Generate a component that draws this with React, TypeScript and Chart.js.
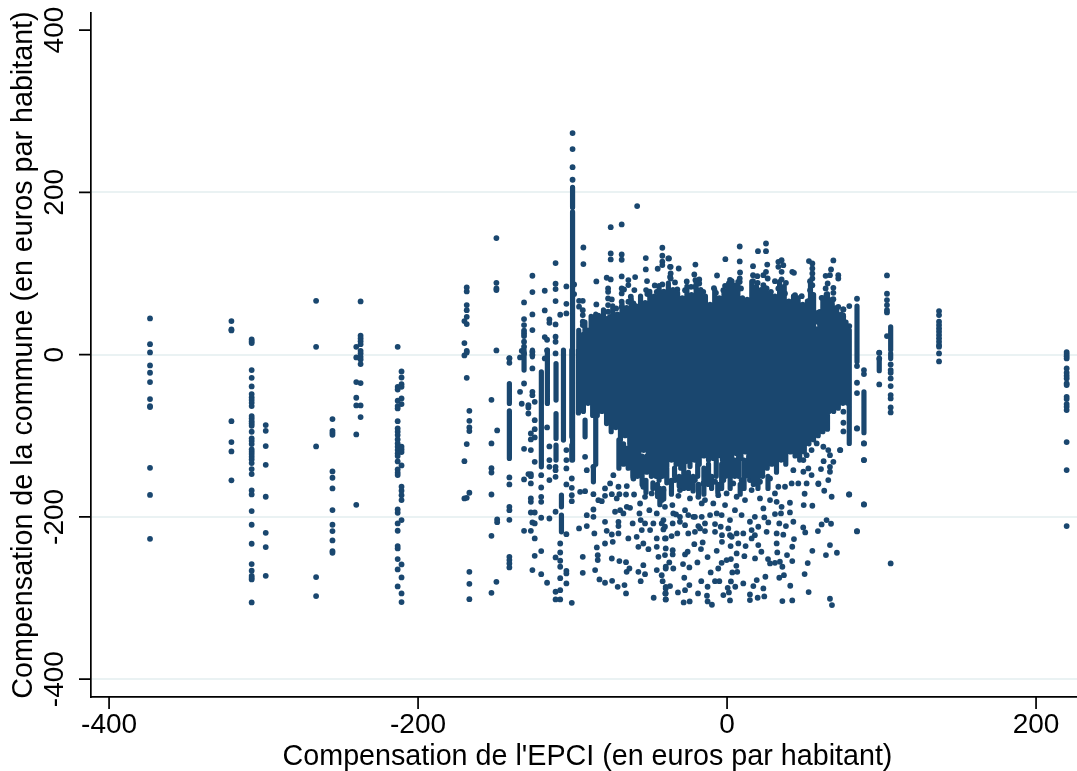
import React, { useEffect, useRef } from "react";
import { Chart, registerables } from "chart.js";

Chart.register(...registerables);

const xTicks = [-400, -200, 0, 200];
const yTicks = [-400, -200, 0, 200, 400];
const xTitle = "Compensation de l'EPCI (en euros par habitant)";
const yTitle = "Compensation de la commune (en euros par habitant)";

// Individually readable communes: [EPCI value, [commune values]]
const farLeftColumns: [number, number[]][] = [
  [-373.5, [44.6, 12.9, 2.7, -13.3, -22.4, -33.9, -54.8, -63.4, -64.7, -139.5, -173, -227]],
  [-320.8, [41.3, 31, 29.8, -82, -107.8, -119.3, -155]],
  [-307.7, [18.7, 16.2, 14.2, -19.1, -28.6, -39.2, -48.7, -52.8, -56.1, -59.4, -63.5, -75.8, -78.7, -82, -84.8, -87.7, -95.1, -103.3, -106.6, -110.3, -116.9, -119.8, -122.6, -125.9, -129.2, -133.7, -141.1, -147.3, -167.4, -172.3, -192.9, -209.7, -233.1, -258.2, -266.4, -272.6, -275, -277.1, -305.4]],
  [-298.6, [-86.9, -93.9, -112.8, -135.8, -175.2, -219.6, -237.2, -272.6]],
  [-266, [66.3, 9.6, -113.2, -274.2, -297.6]],
  [-255.4, [-79.5, -93.9, -96.4, -98.8, -144, -151.8, -165, -191.6, -209.7, -217.5, -229, -242.2, -244.2]],
  [-240, [9.6, -3.5, -33.9, -53.2, -62.7, -98.4, -185.1]],
  [-237.2, [65.5, 23.2, 19.9, 16.6, 12.9, 4.7, 1.4, -2.7, -6, -11.7, -35.1, -62.7, -77]],
  [-213.2, [9.6, -39.7, -43, -56.9, -63.5, -66.4, -82, -91, -95.1, -99.2, -104.6, -109.5, -113.6, -117.7, -121.8, -125.1, -131.7, -141.5, -145.6, -148.5, -190.8, -194.9, -208.1, -217.1, -236, -238.9, -252, -264.8, -285.7]],
  [-210.7, [-20.8, -28.2, -36.4, -39.7, -54, -61, -113.6, -116.9, -120.2, -136.6, -162.9, -167.8, -173.2, -179.3, -204, -258.6, -274.6, -294.4, -305]],
];

const midLeftColumns: [number, number[]][] = [
  [-170, [41.3, 14.2, -1, -131.3, -177.3]],
  [-168.5, [82.8, 77.8, 61, 54.8, 46.6, 37.6, 4.7, 2.7, -28.6, -110.3, -176.5]],
  [-166.8, [-69.3, -81.6, -89.8, -94.3, -170.3, -267.7, -282.5, -301.4]],
  [-152.5, [-55.7, -109.5, -140, -145.3, -172.4, -223.3, -293.6]],
  [-149.3, [143.6, 88.5, 81.5, 79.5, 5.1, -280]],
  [-148.8, [-93.5, -203.2, -206.5]],
  [-140.9, [-4.3, -4.8, -10.1, -151.4, -160, -187.6, -191.7, -203.6, -249.2, -253.3, -257.4, -262.3]],
  [-134, [-3.5, -45.9]],
  [-132.9, [4.7, -60.6]],
  [-131.4, [64.3, 43.8, 36.4, 29.4, 26.1, 22.8, 15.8, 9.7, 1.4, -35.6, -116.1, -153.9, -217.2]],
  [-128.6, [-62.3, -65.2, -72.6, -147.3]],
  [-127, [-97.2, -104.6, -117.7, -147.3, -149.8, -158.8, -177.3, -181.4, -194.6, -217.2]],
  [-126, [97.2, 77, 49.5, 30.2, 3.5, -0.6, -17.1, -45.9, -50, -265.6, -206.9]],
  [-124.5, [-58.2, -80.8, -91.9, -102.1, -132.1, -194.6, -208.1, -226.6, -248]],
  [-120.3, [-148.6, -163.8, -175.3, -181.4, -201.1, -242.2, -270.6]],
  [-118, [78.7, 54.4, 21.6, -4.7]],
  [-116.5, [18.3, 5.1, -89.8, -281.2]],
  [-115, [43.3, 39.2, -113.2, -130, -138.3, -154.7, -202]],
  [-111, [112.8, 87.3, 80.7, 65.9, 37.2, 22, 15.8, 1.4, -138.3, -142.4, -150.6, -193.7, -250, -292.3, -301.8]],
  [-108, [49.1, -232.8, -243.9, -254.1, -261.5, -275.5, -290.3, -301.8]],
  [-104, [84, 62.6, 50.7, -117.7, -130, -140.3, -160, -221.3, -266.5, -269.7, -282]],
  [-100.5, [-152.7, -164.2, -173.2, -180.6, -305.9]],
  [-100, [273, 253.3, 231, 215.5]],
];

const looseEPCI = [-99, -99, -95.8, -95.8, -95.1, -95.8, -93.4, -93.4, -93.4, -93.4, -93.4, -93.4, -93.4, -93, -93, -91.9, -91.9, -90.8, -90.8, -90.8, -86.5, -86.5, -86.5, -86.5, -85.9, -85.4, -84.6, -84.6, -84.3, -83.7, -83.7, -83.3, -83.3, -82.6, -81.1, -79, -79, -79, -79, -79, -77.9, -77.9, -77, -77, -77, -77, -77, -75.7, -75.7, -75.3, -75.3, -75.3, -75.3, -74.6, -74.6, -74.6, -74.6, -74.6, -74.4, -74, -73.6, -72.5, -71.8, -71.4, -70.8, -70.3, -70.3, -70.3, -70.3, -69.7, -69.7, -69.2, -68.2, -68.2, -68.2, -68.2, -68.2, -68.2, -68.2, -68.2, -67.1, -66.7, -66.4, -65.4, -65.4, -65.4, -65, -64.9, -64.9, -63.9, -63.9, -63.9, -63.9, -63.2, -62.8, -62.8, -62.3, -61.1, -60.6, -60.6, -60.2, -60, -59.5, -58.5, -58.2, -57.4, -57.4, -56.7, -56.3, -55.9, -55.9, -55.2, -54.2, -54.2, -54.2, -54.2, -53.1, -53.1, -53.1, -52.6, -52.6, -52.4, -51.8, -51.6, -50.9, -50.3, -49.8, -48.8, -47.7, -47.5, -46.8, -46.6, -45.5, -45.5, -45.5, -45.5, -45.5, -44.9, -44.4, -42.3, -42.3, -41.9, -41.9, -41.9, -41.9, -41.9, -41.2, -39.7, -39.7, -39.7, -39.7, -39.7, -38, -36.9, -36.9];
const looseCommune = [86.5, 74.6, 66.3, 59, -169.1, -214.3, 66.3, 54.8, 48.7, 40.5, 36.4, -249.2, -268.9, 132, 111.5, -126, -168.3, -142.4, -197.9, -211.4, -172, -190.9, -199.9, -138.3, -220.4, -265.6, 90.2, 61.8, -237.7, -247.2, -253.3, 47.9, -179.4, -277.1, -180.6, -174, -165, -206.1, -232.8, -281.2, 94.7, -217.2, 81.5, 77.4, 69.2, 61, 52.8, 46.6, -158.8, 157.1, 124.7, 117.3, 92.6, 68, 42.5, -172, -221.7, -251.3, -278.8, -230.7, -148.6, -193.7, 56.9, -177.3, -286.2, -162.9, -206.1, -211.4, -220.4, -172, -254.5, -191.7, 160.4, 123.4, 116.9, 96.3, 81.5, 75.4, 65.1, 59, -195.8, 80.3, -284.1, -172.4, -255.8, -294.4, -267.7, -162.1, -187.6, 91.8, 85.7, 65.1, -226.6, -263.6, -188.8, -138.3, 71.3, -208.1, 63, -152.7, -172.4, 79.5, 95.5, -224.6, 183, -236.9, -267.7, -195.8, -183.5, -204, -279.2, -216.3, 61, -162.9, -232.8, -259.5, -175.3, -208.1, -270.6, 118.9, 105, 79.5, 90.6, 74.6, -239.8, -191.7, -216.3, -171.1, -208.1, -299.7, 85.2, -162.1, 77.4, -195.8, -226.6, -236.9, -265.6, 105.8, -249.2, -208.1, -271.8, 131.7, 121.8, 114.4, 110.3, 86.5, -167, -226.6, -238.9, -261.5, -286.2, -301.8, 118.5, 108.2, 95.9];

const topEPCI = [-37.6, -36.5, -36.5, -36.5, -33.7, -32.2, -31.3, -27.2, -26.1, -23.3, -21.2, -20.8, -20.5, -20.5, -18, -18, -15.4, -8.5, -7.2, -6.5, -2.4, -1.3, -1.1, 0.8, 1.9, 3, 5.1, 8, 8.2, 8.2, 8.2, 8.2, 8.4, 9, 16.8, 16.8, 16.8, 16.8, 19.6, 19.8, 20, 23.5, 23.5, 25.2, 25.2, 25.2, 25.6, 26, 26.3, 28.4, 31, 33.2, 33.2, 33.2, 35.3, 35.3, 35.3, 35.3, 36.4, 37.5, 38.1, 42.2, 43.3, 44, 48.3, 53, 53.7, 53.7, 53.7, 55.2, 55.2, 55.2, 55.2, 55.2, 55.2, 60.1, 61.2, 63.8, 63.8, 64.4, 64.4, 65.1, 66.6, 67.3, 67.7, 68.8, 68.8, 68.8, 68.8, 72, 72, 72, 75.2, 75.2];
const topCommune = [118.5, 108.2, 100, 93.8, 88.9, 80.3, 106.1, 79.4, 90.1, 83.5, 98.7, 83.5, 111, 91.8, 92.6, 87.6, 77.4, 81.9, 76.1, 97.5, 79.4, 84.8, 117.6, 81.5, 92.2, 90.5, 83.5, 81.5, 133.2, 114.8, 93.8, 89.7, 101.2, 81.5, 109, 97.9, 90.5, 82.3, 96.7, 88.5, 127.5, 97.9, 85.6, 136.9, 127.5, 102, 81.5, 111, 93.8, 77.4, 90.5, 114.3, 108.2, 81.5, 116.4, 102, 92.6, 81.5, 110.2, 75.3, 88.5, 102, 100.8, 73.3, 72, 115.2, 90.5, 79.4, 67.1, 112.3, 106.1, 100, 93.8, 85.6, 73.3, 52.7, 70, 97.1, 81.5, 74.1, 65, 87.6, 97.9, 104.9, 60.9, 116, 82.3, 76.1, 68.3, 97.9, 93.8, 58.9, 55.6, 46.6];

const lowEPCI = [105.9, 88.6, 88.6, 88.6, 84.1, 84.1, 78.9, 73.3, 71.1, 67.9, 67.7, 67.3, 66.6, 66.6, 64.4, 64, 62.9, 62.5, 61.2, 60.8, 59.1, 58.8, 55.2, 55.2, 52.8, 52.2, 50.6, 50.2, 50.2, 49.6, 49.3, 43.3, 42.9, 42.2, 42.2, 42.2, 40.9, 40.7, 40.7, 38.8, 38.1, 36.8, 36.4, 35.8, 35.8, 34.9, 34.2, 33.8, 33.8, 32.5, 32.1, 32.1, 31, 31, 27.8, 26.7, 26.5, 25.6, 24.8, 24.1, 24.1, 23.5, 22.2, 20.2, 19.8, 19.2, 18.1, 18, 17, 15.9, 14.8, 14.8, 12, 11.2, 10.5, 10.5, 7.3, 6.6, 6.2, 6, 5.3, 3.4, 2.5, 2.5, 2.3, 1.9, 1.9, 1.2, 0.8, 0.4, -0.3, -2.4, -3.3, -3.3, -3.5, -4.1, -5, -5.7, -6.7, -7.8, -7.8, -9.8, -10.6, -12.6, -12.6, -12.6, -13, -14.3, -15.8, -16.7, -16.9, -18.6, -18.8, -19.2, -21.2, -21.8, -24.2, -24.4, -24.4, -25.1, -25.5, -27.2, -27.2, -27.2, -27.7, -28.1, -28.5, -31.8, -32.2, -33, -34.8, -35.2, -35.2, -35.2, -35.4, -35.9, -36.9, -37.4, -39.7, -39.7, -39.7, -39.7, -40, -40.2, -40.2, -41.2, -41.7];
const lowCommune = [-257.4, -184.7, -130, -109.5, -217.5, -91, -172.4, -117.7, -244.2, -308.7, -175.2, -208.5, -234.8, -300.9, -204, -247.1, -167.8, -131.3, -209.3, -141.1, -159.6, -217.5, -241.8, -186.3, -292.7, -257, -219.2, -171.5, -270.5, -185.5, -213, -227.4, -206, -236.8, -254.5, -303, -284.9, -194.5, -182.6, -247.1, -211.4, -271.8, -222, -261.5, -303.8, -195.8, -255.3, -275, -208.1, -243.8, -232.7, -220.4, -256.6, -196.6, -257.4, -206.9, -252, -218.4, -273.8, -298, -200.7, -288.2, -243, -234.8, -299.7, -277.9, -251.2, -222.5, -285.3, -226.6, -295.6, -302.6, -236, -248.4, -282, -220.4, -232.7, -267.7, -245.1, -260.3, -286.1, -268.5, -279.6, -252, -236, -303, -222.5, -293.1, -214.3, -287.4, -253.3, -296.4, -222.5, -230.7, -256.6, -212.2, -279.2, -263.6, -241.8, -279.2, -208.9, -308.3, -268.5, -304.2, -286.1, -249.6, -297.2, -217.5, -231.5, -279.2, -239.7, -211.4, -294.4, -256.2, -233.6, -199.9, -304.2, -284.1, -262.3, -220.4, -243, -290.3, -246.3, -210.2, -275, -305.5, -258.2, -293.1, -220.4, -197, -263.6, -241, -246.3, -208.1, -185.5, -223.7, -285.3, -256.2, -301.8, -288.2, -263.6, -294.4, -294.4, -247.1, -226.6, -215.5, -279.2];

// Loose communes just under the dense body
const underEPCI = [-42.3, -41.2, -40.2, -40.2, -34.8, -33.7, -31.5, -30.5, -30.5, -30.5, -27.2, -26.1, -25.1, -24, -20.8, -20.8, -20.8, -18.6, -17.5, -16.4, -16.4, -15.4, -14.3, -14.3, -11, -8.9, -7.8, -7.8, -6.7, -5.7, -3.5, -2.4, -1.3, -0.3, 1.9, 3, 4, 5.1, 6.2, 6.2, 9.4, 9.4, 11.6, 14.8, 14.8, 15.9, 15.9, 18, 20.2, 21.3, 21.3, 23.5, 27.8, 27.8, 31, 32.1, 33.2, 35.3, 37.5, 41.8, 42.9, 46.1, 49.4, 49.4, 51.5, 51.5, 52.6, 54.7, 54.7, 58, 59.1, 62.3, 65.5, 65.5, 66.6, 66.6, 66.6, 68.8];
const underCommune = [-179.3, -204, -187.6, -212.2, -195.8, -154.7, -174, -167, -199.9, -206, -191.7, -152.6, -197.8, -177.3, -154.7, -199.9, -218.4, -175.2, -214.3, -183.4, -199.9, -158.8, -179.3, -208.1, -197.8, -183.4, -218.4, -156.7, -195.8, -173.2, -197.8, -154.7, -185.5, -171.1, -204, -224.5, -158.8, -191.7, -175.2, -220.4, -197.8, -154.7, -179.3, -206, -154.7, -167, -216.3, -199.9, -212.2, -177.3, -156.7, -189.6, -179.3, -152.6, -171.1, -181.4, -162.9, -187.6, -162.9, -158.8, -142.4, -158.8, -144.4, -130, -158.8, -123.9, -140.3, -148.5, -117.7, -109.5, -158.8, -113.6, -154.7, -117.7, -144.4, -138.3, -123.9, -132.1];

const rightColumns: [number, number[]][] = [
  [84.1, [68.8, -14.2, -34.7, -47.4, -91, -217.9]],
  [79.1, [59.8, 35.1, -172.3]],
  [75.3, [55.7, -70.4, -84, -94.7]],
  [73.1, [-117.7]],
  [88.6, [-19.1, -24, -109.5, -130, -184.6]],
  [98.5, [2.3, 2.2, -4.8, -36.8]],
  [103.5, [97.6, 75, 67.2, 61, 54.9, 52, 22.8]],
  [105.9, [-12.1, -19.1, -22.4, -29.4, -38.8, -49.9, -54, -65.1, -71.3]],
  [137.2, [53.6, 48.7, 40.5, 36.4, 32.3, 28.2, 24.1, 20, 15.9, 11.7, 9.7, 1.5, -8.4]],
  [219.8, [3.1, 0.6, -1.9, -4.7, -17, -22.4, -26, -29.4, -35.5, -37.6, -52, -54.8, -61, -64.3, -68.4, -107.8, -142.3, -211.4]],
];

// Columns too dense to separate: [EPCI value, highest commune, lowest commune]
const columnSpans: [number, number, number][] = [
  [-140.9, -35.6, -60.2], [-140.9, -69.3, -128], [-131.4, 5.5, -19.1], [-126, 5.5, -2.7], [-120.2, -21.2, -138.3], [-116.3, 5.5, -60.2],
  [-110.7, -11, -56], [-110.7, -72.6, -103.4], [-110.7, -111.6, -130], [-107.2, -173.2, -187.6], [-107.2, -197.9, -218.4], [-105.9, 5.5, -105.4],
  [-100.5, 5.5, -82.8], [-100.5, -82.8, -101.3], [-100.5, -111.6, -130], [-100, 206, 181.4], [-100, 176, -130], [-96.2, 5.5, -72],
  [-91.9, -80.8, -101.3], [-85, -35, -135], [-86.5, -138.3, -156.8],
  [79.1, 30.2, -109.5], [75.3, 48.7, -52], [84.1, 59.8, -8.8], [88.6, -45.8, -96.3], [98.5, -5.9, -19.9], [105.9, 34.3, 5.6], [105.9, 1.5, -4.7],
];
const bodySpans: [number, number, number][] = [
  [-96, 30, -60], [-93, 25, -70], [-90, 30, -60], [-87, 35, -75], [-84, 38, -75], [-81, 35, -70], [-78, 30, -85], [-75, 34, -95], [-72, 38, -90], [-69, 44, -105],
  [-66, 42, -100], [-63, 50, -110], [-60, 52, -118], [-57, 48, -120], [-54, 58, -118], [-51, 62, -125], [-48, 60, -128], [-45, 68, -130], [-42, 70, -135], [-39, 66, -138],
  [-36, 72, -130], [-33, 62, -135], [-30, 60, -140], [-27, 64, -132], [-24, 58, -138], [-21, 72, -130], [-18, 68, -135], [-15, 64, -125], [-12, 52, -130], [-9, 58, -128],
  [-6, 56, -125], [-3, 62, -130], [0, 64, -125], [3, 68, -128], [6, 70, -122], [9, 62, -128], [12, 55, -120], [15, 60, -122], [18, 70, -118], [21, 68, -115],
  [24, 65, -118], [27, 60, -112], [30, 55, -108], [33, 65, -105], [36, 68, -100], [39, 55, -98], [42, 58, -95], [45, 60, -90], [48, 55, -88], [51, 52, -85],
  [54, 65, -80], [57, 32, -78], [60, 45, -80], [63, 50, -75], [66, 50, -70], [69, 45, -70], [72, 38, -66], [75, 30, -60], [78, 20, -60],
];
const fringeSpans: [number, number, number][] = [
  [-92, 40, 20], [-88, 47, 20], [-85, 50, 25], [-82, 45, 20], [-80, 55, 25], [-77, 45, 25], [-74, 60, 30], [-71, 50, 30], [-68, 62, 35], [-65, 58, 35],
  [-62, 68, 40], [-59, 60, 40], [-56, 72, 45], [-53, 64, 50], [-50, 78, 50], [-47, 72, 50], [-44, 85, 60], [-41, 78, 60], [-38, 88, 60], [-35, 80, 60],
  [-32, 76, 55], [-29, 70, 55], [-26, 84, 55], [-23, 74, 55], [-20, 90, 60], [-17, 80, 60], [-14, 72, 50], [-11, 62, 50], [-8, 80, 50], [-5, 70, 50],
  [-2, 78, 55], [1, 88, 60], [4, 86, 60], [7, 90, 60], [10, 70, 55], [13, 68, 50], [16, 90, 55], [19, 84, 60], [22, 80, 60], [25, 82, 60],
  [28, 76, 55], [31, 72, 50], [34, 90, 60], [37, 84, 60], [40, 66, 50], [43, 72, 50], [46, 70, 50], [49, 62, 50], [52, 66, 50], [54, 90, 60],
  [56, 74, 30], [59, 52, 40], [62, 70, 45], [65, 75, 45], [68, 68, 45], [71, 58, 40], [74, 50, 30], [77, 40, 20],
];
const laceSpans: [number, number, number][] = [
  [-70, -105, -140], [-67, -110, -135], [-64, -115, -140], [-61, -115, -150], [-58, -120, -150], [-55, -125, -160], [-52, -125, -145], [-52.5, -155, -170], [-49, -130, -150], [-48, -158, -165], [-46, -130, -150], [-45, -160, -175], [-44, -135, -155], [-43.5, -165, -185],
  [-42, -135, -150], [-41, -165, -178], [-39, -140, -158], [-36, -155, -172], [-34, -140, -150], [-31, -150, -162], [-28, -135, -165], [-25, -145, -165], [-22, -150, -168], [-19, -135, -150],
  [-18.5, -160, -172], [-15, -140, -172], [-12, -135, -160], [-10, -150, -165], [-7, -130, -150], [-6, -160, -170], [-3.5, -135, -165], [-1, -130, -150], [2, -128, -165], [5, -130, -150],
  [7.5, -125, -150], [8.5, -160, -172], [11, -130, -165], [14, -125, -150], [17, -122, -160], [20, -120, -165], [23, -118, -150], [26, -115, -140], [26.5, -150, -165], [29, -112, -135],
  [32, -110, -145], [35, -105, -130], [38, -100, -135], [41, -98, -120], [44, -95, -125], [47, -90, -130], [50, -88, -120], [53, -85, -110], [56, -80, -105], [59, -80, -100], [62, -75, -95], [65, -75, -92],
];

const NAVY = "#1a476f";
const FONT = "'Liberation Sans', Arial, sans-serif";

function expand(cols: [number, number[]][]) {
  return cols.flatMap(([x, ys]) => ys.map((y) => ({ x, y })));
}
function zipXY(xs: number[], ys: number[]) {
  return xs.map((x, i) => ({ x, y: ys[i] }));
}

export default function App() {
  const ref = useRef<HTMLCanvasElement>(null);
  useEffect(() => {
    document.body.style.margin = "0";
    const points = [
      ...expand(farLeftColumns),
      ...expand(midLeftColumns),
      ...expand(rightColumns),
      ...zipXY(looseEPCI, looseCommune),
      ...zipXY(topEPCI, topCommune),
      ...zipXY(lowEPCI, lowCommune),
      ...zipXY(underEPCI, underCommune),
    ];
    const spans = [...columnSpans, ...bodySpans, ...fringeSpans, ...laceSpans].flatMap(([x, hi, lo]) => [
      { x, y: hi },
      { x, y: lo },
      { x, y: null as unknown as number },
    ]);
    const chart = new Chart(ref.current!, {
      type: "scatter",
      data: {
        datasets: [
          {
            type: "line",
            data: spans,
            borderColor: NAVY,
            borderWidth: 5.2,
            borderCapStyle: "round",
            pointRadius: 0,
            spanGaps: false,
            tension: 0,
          },
          {
            data: points,
            backgroundColor: NAVY,
            borderWidth: 0,
            pointRadius: 2.9,
          },
        ],
      },
      options: {
        animation: false,
        responsive: false,
        events: [],
        layout: { autoPadding: false, padding: { top: 13, right: 0, left: 0, bottom: 0 } },
        plugins: { legend: { display: false }, tooltip: { enabled: false } },
        scales: {
          x: {
            type: "linear",
            min: -411.7,
            max: 226.5,
            afterBuildTicks: (s: any) => { s.ticks = xTicks.map((value) => ({ value })); },
            afterFit: (s: any) => { s.height = 74; s.paddingLeft = 0; s.paddingRight = 0; },
            grid: { display: false, drawTicks: false },
            border: { display: true, color: "#000", width: 1.7 },
            ticks: { color: "#000", font: { family: FONT, size: 28 }, padding: 11, maxRotation: 0, autoSkip: false },
            title: { display: false },
          },
          y: {
            type: "linear",
            min: -422,
            max: 421,
            afterBuildTicks: (s: any) => { s.ticks = yTicks.map((value) => ({ value })); },
            afterFit: (s: any) => { s.width = 91; s.paddingTop = 0; s.paddingBottom = 0; },
            grid: {
              color: (c: any) => (c.tick && c.tick.value === 400 ? "rgba(0,0,0,0)" : "#eaf2f3"),
              lineWidth: 2,
              drawTicks: false,
            },
            border: { display: true, color: "#000", width: 1.7 },
            ticks: { color: "#000", font: { family: FONT, size: 28 }, padding: 8, minRotation: 90, maxRotation: 90, crossAlign: "center", autoSkip: false },
            title: { display: true, text: yTitle, color: "#000", font: { family: FONT, size: 28.7 }, padding: { top: 6.5, bottom: 0 } },
          },
        },
      },
      plugins: [
        {
          id: "axisTicksAndTitle",
          afterDraw(c: any) {
            const g = c.ctx;
            g.save();
            g.strokeStyle = "#000";
            g.lineWidth = 1.7;
            g.beginPath();
            for (const v of xTicks) {
              const px = c.scales.x.getPixelForValue(v);
              g.moveTo(px, c.chartArea.bottom);
              g.lineTo(px, c.chartArea.bottom + 12);
            }
            for (const v of yTicks) {
              const py = c.scales.y.getPixelForValue(v);
              g.moveTo(c.chartArea.left, py);
              g.lineTo(c.chartArea.left - 12, py);
            }
            g.stroke();
            g.fillStyle = "#000";
            g.font = `28.7px ${FONT}`;
            g.textAlign = "center";
            g.textBaseline = "middle";
            g.fillText(xTitle, 587.5, 757);
            g.restore();
          },
        },
      ],
    } as any);
    return () => chart.destroy();
  }, []);
  return <canvas ref={ref} width={1077} height={771} style={{ display: "block" }} />;
}
